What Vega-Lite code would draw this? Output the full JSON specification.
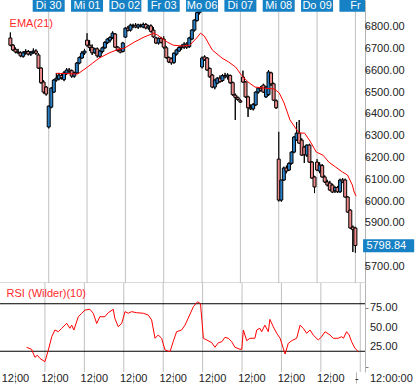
{
  "$schema": "https://vega.github.io/schema/vega-lite/v6.json",
  "padding": 0,
  "spacing": 0,
  "bounds": "flush",
  "background": "white",
  "config": {
    "view": {"stroke": null},
    "font": "Liberation Sans",
    "axis": {"grid": false, "title": null, "labelFont": "Liberation Sans", "labelFontSize": 11, "labelColor": "#222222", "labelFlush": false, "labelOverlap": false, "minExtent": 0}
  },
  "datasets": {
    "days": [
      {"t": 0, "lab": "Di 30"}, {"t": 15, "lab": "Mi 01"}, {"t": 30, "lab": "Do 02"}, {"t": 45, "lab": "Fr 03"},
      {"t": 60, "lab": "Mo 06"}, {"t": 75, "lab": "Di 07"}, {"t": 90, "lab": "Mi 08"}, {"t": 105, "lab": "Do 09"}, {"t": 120, "lab": "Fr"}
    ],
    "pticks": [{"v": 5700}, {"v": 5900}, {"v": 6000}, {"v": 6100}, {"v": 6200}, {"v": 6300}, {"v": 6400}, {"v": 6500}, {"v": 6600}, {"v": 6700}, {"v": 6800}],
    "rticks": [{"v": 25}, {"v": 50}, {"v": 75}],
    "candles": [
      {"t":-15,"o":6750,"h":6775,"l":6712,"c":6717},{"t":-14,"o":6717,"h":6722,"l":6690,"c":6695},{"t":-13,"o":6698,"h":6706,"l":6680,"c":6686},
      {"t":-12,"o":6686,"h":6700,"l":6676,"c":6682},{"t":-11,"o":6682,"h":6688,"l":6662,"c":6668},{"t":-10,"o":6666,"h":6690,"l":6660,"c":6682},
      {"t":-9,"o":6682,"h":6698,"l":6674,"c":6688},{"t":-8,"o":6688,"h":6694,"l":6670,"c":6676},{"t":-7,"o":6676,"h":6690,"l":6668,"c":6684},
      {"t":-6,"o":6684,"h":6702,"l":6678,"c":6690},{"t":-5,"o":6690,"h":6698,"l":6672,"c":6680},{"t":-4,"o":6672,"h":6680,"l":6608,"c":6612},
      {"t":-3,"o":6612,"h":6616,"l":6540,"c":6545},{"t":-2,"o":6548,"h":6556,"l":6495,"c":6502},{"t":-1,"o":6525,"h":6530,"l":6486,"c":6493},
      {"t":0,"o":6342,"h":6440,"l":6335,"c":6438},{"t":1,"o":6433,"h":6525,"l":6428,"c":6520},{"t":2,"o":6502,"h":6562,"l":6498,"c":6557},
      {"t":3,"o":6557,"h":6589,"l":6550,"c":6566},{"t":4,"o":6562,"h":6590,"l":6556,"c":6580},{"t":5,"o":6578,"h":6585,"l":6560,"c":6568},
      {"t":6,"o":6560,"h":6598,"l":6552,"c":6590},{"t":7,"o":6588,"h":6612,"l":6580,"c":6603},{"t":8,"o":6603,"h":6612,"l":6590,"c":6598},
      {"t":9,"o":6600,"h":6605,"l":6568,"c":6575},{"t":10,"o":6575,"h":6595,"l":6568,"c":6590},{"t":11,"o":6590,"h":6640,"l":6585,"c":6635},
      {"t":12,"o":6635,"h":6665,"l":6630,"c":6660},{"t":13,"o":6658,"h":6690,"l":6655,"c":6681},{"t":14,"o":6681,"h":6700,"l":6672,"c":6690},
      {"t":15,"o":6740,"h":6772,"l":6710,"c":6717},{"t":16,"o":6717,"h":6740,"l":6690,"c":6706},{"t":17,"o":6706,"h":6720,"l":6672,"c":6682},
      {"t":18,"o":6682,"h":6705,"l":6678,"c":6700},{"t":19,"o":6700,"h":6706,"l":6660,"c":6668},{"t":20,"o":6666,"h":6695,"l":6660,"c":6690},
      {"t":21,"o":6688,"h":6710,"l":6680,"c":6705},{"t":22,"o":6705,"h":6735,"l":6700,"c":6730},{"t":23,"o":6728,"h":6750,"l":6722,"c":6745},
      {"t":24,"o":6740,"h":6758,"l":6730,"c":6752},{"t":25,"o":6752,"h":6780,"l":6745,"c":6772},{"t":26,"o":6768,"h":6772,"l":6704,"c":6708},
      {"t":27,"o":6708,"h":6712,"l":6688,"c":6692},{"t":28,"o":6694,"h":6702,"l":6680,"c":6685},{"t":29,"o":6688,"h":6732,"l":6684,"c":6727},
      {"t":30,"o":6754,"h":6800,"l":6750,"c":6795},{"t":31,"o":6795,"h":6805,"l":6780,"c":6785},{"t":32,"o":6786,"h":6815,"l":6780,"c":6809},
      {"t":33,"o":6805,"h":6815,"l":6795,"c":6808},{"t":34,"o":6808,"h":6818,"l":6795,"c":6800},{"t":35,"o":6800,"h":6815,"l":6792,"c":6810},
      {"t":36,"o":6805,"h":6815,"l":6798,"c":6808},{"t":37,"o":6800,"h":6820,"l":6795,"c":6812},{"t":38,"o":6812,"h":6818,"l":6790,"c":6796},
      {"t":39,"o":6796,"h":6810,"l":6788,"c":6805},{"t":40,"o":6805,"h":6812,"l":6775,"c":6780},{"t":41,"o":6786,"h":6800,"l":6750,"c":6755},
      {"t":42,"o":6750,"h":6755,"l":6722,"c":6727},{"t":43,"o":6727,"h":6752,"l":6720,"c":6748},{"t":44,"o":6748,"h":6755,"l":6725,"c":6730},
      {"t":45,"o":6745,"h":6758,"l":6700,"c":6708},{"t":46,"o":6705,"h":6712,"l":6655,"c":6660},{"t":47,"o":6660,"h":6665,"l":6635,"c":6640},
      {"t":48,"o":6655,"h":6660,"l":6628,"c":6636},{"t":49,"o":6638,"h":6684,"l":6632,"c":6680},{"t":50,"o":6676,"h":6700,"l":6670,"c":6695},
      {"t":51,"o":6690,"h":6712,"l":6686,"c":6706},{"t":52,"o":6706,"h":6720,"l":6696,"c":6712},{"t":53,"o":6708,"h":6730,"l":6700,"c":6722},
      {"t":54,"o":6722,"h":6730,"l":6700,"c":6708},{"t":55,"o":6710,"h":6755,"l":6705,"c":6750},{"t":56,"o":6745,"h":6790,"l":6740,"c":6786},
      {"t":57,"o":6786,"h":6835,"l":6780,"c":6832},{"t":58,"o":6830,"h":6870,"l":6825,"c":6866},{"t":59,"o":6866,"h":6885,"l":6858,"c":6878},
      {"t":60,"o":6617,"h":6665,"l":6610,"c":6658},{"t":61,"o":6663,"h":6670,"l":6645,"c":6650},{"t":62,"o":6658,"h":6662,"l":6600,"c":6603},
      {"t":63,"o":6610,"h":6615,"l":6568,"c":6572},{"t":64,"o":6580,"h":6585,"l":6520,"c":6525},{"t":65,"o":6525,"h":6560,"l":6515,"c":6557},
      {"t":66,"o":6543,"h":6570,"l":6538,"c":6566},{"t":67,"o":6566,"h":6578,"l":6545,"c":6550},{"t":68,"o":6555,"h":6585,"l":6550,"c":6578},
      {"t":69,"o":6578,"h":6590,"l":6565,"c":6572},{"t":70,"o":6572,"h":6588,"l":6560,"c":6580},{"t":71,"o":6578,"h":6582,"l":6540,"c":6545},
      {"t":72,"o":6545,"h":6550,"l":6485,"c":6490},{"t":73,"o":6488,"h":6495,"l":6374,"c":6478},{"t":74,"o":6476,"h":6482,"l":6462,"c":6468},
      {"t":75,"o":6462,"h":6470,"l":6452,"c":6456},{"t":76,"o":6571,"h":6600,"l":6545,"c":6548},{"t":77,"o":6548,"h":6552,"l":6475,"c":6480},
      {"t":78,"o":6480,"h":6485,"l":6388,"c":6430},{"t":79,"o":6430,"h":6445,"l":6420,"c":6425},{"t":80,"o":6425,"h":6452,"l":6418,"c":6445},
      {"t":81,"o":6443,"h":6505,"l":6438,"c":6502},{"t":82,"o":6502,"h":6525,"l":6495,"c":6520},{"t":83,"o":6520,"h":6530,"l":6505,"c":6510},
      {"t":84,"o":6534,"h":6540,"l":6498,"c":6502},{"t":85,"o":6480,"h":6530,"l":6475,"c":6525},{"t":86,"o":6490,"h":6603,"l":6485,"c":6594},
      {"t":87,"o":6590,"h":6595,"l":6530,"c":6540},{"t":88,"o":6540,"h":6545,"l":6462,"c":6465},{"t":89,"o":6462,"h":6468,"l":6425,"c":6430},
      {"t":90,"o":6195,"h":6320,"l":6000,"c":6007},{"t":91,"o":6007,"h":6100,"l":6000,"c":6099},{"t":92,"o":6099,"h":6160,"l":6095,"c":6154},
      {"t":93,"o":6154,"h":6165,"l":6130,"c":6140},{"t":94,"o":6145,"h":6180,"l":6140,"c":6175},{"t":95,"o":6175,"h":6230,"l":6170,"c":6227},
      {"t":96,"o":6227,"h":6300,"l":6222,"c":6296},{"t":97,"o":6282,"h":6365,"l":6278,"c":6314},{"t":98,"o":6314,"h":6374,"l":6265,"c":6268},
      {"t":99,"o":6282,"h":6290,"l":6210,"c":6213},{"t":100,"o":6250,"h":6255,"l":6177,"c":6215},{"t":101,"o":6213,"h":6262,"l":6205,"c":6259},
      {"t":102,"o":6259,"h":6265,"l":6178,"c":6181},{"t":103,"o":6181,"h":6186,"l":6105,"c":6108},{"t":104,"o":6113,"h":6118,"l":6039,"c":6067},
      {"t":105,"o":6181,"h":6195,"l":6140,"c":6145},{"t":106,"o":6140,"h":6180,"l":6130,"c":6168},{"t":107,"o":6165,"h":6172,"l":6110,"c":6113},
      {"t":108,"o":6113,"h":6120,"l":6085,"c":6090},{"t":109,"o":6090,"h":6100,"l":6070,"c":6076},{"t":110,"o":6085,"h":6095,"l":6050,"c":6053},
      {"t":111,"o":6076,"h":6082,"l":6040,"c":6044},{"t":112,"o":6050,"h":6070,"l":6040,"c":6065},{"t":113,"o":6065,"h":6072,"l":6040,"c":6045},
      {"t":114,"o":6045,"h":6105,"l":6040,"c":6099},{"t":115,"o":6099,"h":6108,"l":6085,"c":6090},{"t":116,"o":6099,"h":6105,"l":6018,"c":6021},
      {"t":117,"o":6021,"h":6025,"l":5950,"c":5952},{"t":118,"o":5961,"h":5965,"l":5875,"c":5879},{"t":119,"o":5883,"h":5890,"l":5769,"c":5872},
      {"t":120,"o":5879,"h":5885,"l":5765,"c":5798.84}
    ],
    "ema": [
      {"t":2.8,"v":6588},{"t":11.4,"v":6585},{"t":15.2,"v":6617},{"t":17.1,"v":6634},{"t":19.8,"v":6658},{"t":23.6,"v":6681},
      {"t":26.6,"v":6695},{"t":29.7,"v":6704},{"t":33.5,"v":6731},{"t":37.3,"v":6754},{"t":41.1,"v":6772},{"t":42.6,"v":6763},
      {"t":46.4,"v":6731},{"t":48.7,"v":6717},{"t":52.2,"v":6713},{"t":55.2,"v":6717},{"t":57.9,"v":6750},{"t":59.4,"v":6772},
      {"t":60.9,"v":6759},{"t":64.0,"v":6695},{"t":67.8,"v":6658},{"t":70.4,"v":6640},{"t":73.1,"v":6617},{"t":75.4,"v":6580},
      {"t":78.0,"v":6548},{"t":80.7,"v":6525},{"t":84.5,"v":6520},{"t":88.3,"v":6516},{"t":90.2,"v":6498},{"t":92.1,"v":6452},
      {"t":94.4,"v":6374},{"t":97.1,"v":6328},{"t":98.2,"v":6314},{"t":100.1,"v":6314},{"t":102.0,"v":6282},{"t":104.7,"v":6227},
      {"t":107.3,"v":6213},{"t":109.6,"v":6181},{"t":112.3,"v":6158},{"t":115.0,"v":6135},{"t":116.9,"v":6122},{"t":118.8,"v":6076},
      {"t":119.5,"v":6044},{"t":120.3,"v":6025}
    ],
    "rsi": [
      {"t":-7.0,"v":25},{"t":-5.1,"v":22.5},{"t":-3.8,"v":12.4},{"t":-2.9,"v":15},{"t":-1.9,"v":11},{"t":0,"v":6.8},
      {"t":1.3,"v":21.6},{"t":2.6,"v":38.4},{"t":3.8,"v":46.8},{"t":5.1,"v":44.7},{"t":6.4,"v":49},{"t":8.3,"v":55.3},
      {"t":9.5,"v":49},{"t":10.2,"v":53},{"t":11.0,"v":46.8},{"t":12.7,"v":63.6},{"t":14.0,"v":67.9},{"t":15.2,"v":72},
      {"t":17.1,"v":73},{"t":18.4,"v":68},{"t":19.7,"v":55},{"t":20.9,"v":63.6},{"t":22.8,"v":63.6},{"t":24.1,"v":68.7},
      {"t":26.0,"v":73},{"t":26.6,"v":61.6},{"t":27.9,"v":51},{"t":29.2,"v":55.3},{"t":30.5,"v":70},{"t":31.7,"v":68},
      {"t":33.0,"v":70},{"t":34.9,"v":68.7},{"t":37.4,"v":68},{"t":39.3,"v":65.8},{"t":40.6,"v":59.5},{"t":41.9,"v":36.4},
      {"t":43.1,"v":40.5},{"t":44.4,"v":36.4},{"t":45.7,"v":21.6},{"t":47.6,"v":19.4},{"t":48.8,"v":32},{"t":50.1,"v":44.7},
      {"t":52.0,"v":46.8},{"t":53.3,"v":53},{"t":54.5,"v":61.6},{"t":56.5,"v":76.3},{"t":58.1,"v":82.6},{"t":59.2,"v":80},
      {"t":60.3,"v":36.4},{"t":61.6,"v":34.2},{"t":63.5,"v":30.8},{"t":64.7,"v":25},{"t":66.0,"v":30.8},{"t":67.3,"v":32},
      {"t":68.5,"v":37.6},{"t":69.8,"v":36.4},{"t":71.1,"v":32},{"t":72.3,"v":25},{"t":74.2,"v":22.5},{"t":74.9,"v":22.5},
      {"t":75.5,"v":46.8},{"t":76.8,"v":33.3},{"t":78.0,"v":36.4},{"t":79.9,"v":36.4},{"t":80.6,"v":46.8},{"t":81.8,"v":49},
      {"t":82.5,"v":44.7},{"t":83.7,"v":53},{"t":85.0,"v":44.7},{"t":85.6,"v":60.3},{"t":86.9,"v":51},{"t":88.2,"v":42.7},
      {"t":89.5,"v":36.4},{"t":90.7,"v":23.7},{"t":91.4,"v":16.5},{"t":92.6,"v":30},{"t":93.9,"v":33.3},{"t":95.8,"v":36.4},
      {"t":97.1,"v":53},{"t":98.3,"v":49},{"t":99.6,"v":42.7},{"t":100.9,"v":46.8},{"t":102.1,"v":40.5},{"t":104.0,"v":34.2},
      {"t":105.3,"v":38.4},{"t":106.6,"v":44.7},{"t":108.5,"v":40.5},{"t":109.7,"v":36.4},{"t":111.6,"v":36.4},{"t":112.9,"v":38.4},
      {"t":113.6,"v":36.4},{"t":114.8,"v":44.7},{"t":115.8,"v":40.5},{"t":116.7,"v":32},{"t":118.0,"v":23.7},{"t":119.3,"v":19.4}
    ],
    "levels": [{"v": 20}, {"v": 80}]
  },
  "vconcat": [
    {
      "width": 365,
      "height": 283,
      "layer": [
        {
          "data": {"name": "candles"},
          "mark": {"type": "rule", "color": "#000000", "strokeWidth": 1, "clip": true},
          "encoding": {
            "x": {"field": "t", "type": "quantitative", "scale": {"domain": [-17.1, 121.8], "nice": false, "zero": false}, "axis": null},
            "y": {"field": "l", "type": "quantitative", "scale": {"domain": [5627, 6924], "nice": false, "zero": false},
                  "axis": {"orient": "right", "values": [5700, 5900, 6000, 6100, 6200, 6300, 6400, 6500, 6600, 6700, 6800],
                           "labels": false, "tickSize": 3, "tickColor": "#808080", "domain": true, "domainColor": "#b4b4b4", "title": null}},
            "y2": {"field": "h"}
          }
        },
        {
          "data": {"name": "days"},
          "mark": {"type": "rule", "color": "#c0c0c0", "strokeWidth": 1, "clip": true},
          "encoding": {
            "x": {"field": "t", "type": "quantitative"}
          }
        },
        {
          "data": {"values": [{"edge": 5627}]},
          "mark": {"type": "rule", "color": "#b4b4b4", "strokeWidth": 1, "clip": true},
          "encoding": {
            "y": {"field": "edge", "type": "quantitative"}
          }
        },
        {
          "data": {"name": "candles"},
          "mark": {"type": "rule", "color": "#000000", "strokeWidth": 1, "clip": true},
          "encoding": {
            "x": {"field": "t", "type": "quantitative"},
            "y": {"field": "l", "type": "quantitative"},
            "y2": {"field": "h"}
          }
        },
        {
          "data": {"name": "candles"},
          "mark": {"type": "bar", "size": 3, "stroke": "#000000", "strokeWidth": 1, "clip": true},
          "encoding": {
            "x": {"field": "t", "type": "quantitative"},
            "y": {"field": "o", "type": "quantitative"},
            "y2": {"field": "c"},
            "color": {"condition": {"test": "datum.c >= datum.o", "value": "#2a80c6"}, "value": "#f08a8a"}
          }
        },
        {
          "data": {"name": "ema"},
          "mark": {"type": "line", "color": "#ff0000", "strokeWidth": 1, "clip": true},
          "encoding": {
            "x": {"field": "t", "type": "quantitative"},
            "y": {"field": "v", "type": "quantitative"}
          }
        },
        {
          "data": {"name": "days"},
          "mark": {"type": "bar", "size": 32, "color": "#1681c4", "clip": true},
          "encoding": {
            "x": {"field": "t", "type": "quantitative"},
            "y": {"datum": 6924},
            "y2": {"datum": 6870}
          }
        },
        {
          "data": {"name": "days"},
          "mark": {"type": "text", "color": "#ffffff", "fontSize": 11, "baseline": "middle", "clip": true},
          "encoding": {
            "x": {"field": "t", "type": "quantitative"},
            "y": {"datum": 6897},
            "text": {"field": "lab"}
          }
        },
        {
          "data": {"values": [{"lab": "EMA(21)"}]},
          "mark": {"type": "text", "color": "#ff2a2a", "fontSize": 11, "align": "left", "baseline": "middle"},
          "encoding": {
            "x": {"datum": -15.3},
            "y": {"datum": 6816},
            "text": {"field": "lab"}
          }
        },
        {
          "data": {"name": "pticks"},
          "mark": {"type": "text", "color": "#222222", "fontSize": 11, "align": "left", "baseline": "middle", "clip": false},
          "encoding": {
            "x": {"datum": 123.7},
            "y": {"field": "v", "type": "quantitative"},
            "text": {"field": "v", "type": "quantitative", "format": ".2f"}
          }
        },
        {
          "data": {"values": [{"p": 5798.84}]},
          "mark": {"type": "rect", "color": "#1681c4", "clip": false},
          "encoding": {
            "x": {"datum": 123},
            "x2": {"datum": 143},
            "y": {"datum": 5768},
            "y2": {"datum": 5828}
          }
        },
        {
          "data": {"values": [{"p": 5798.84}]},
          "mark": {"type": "text", "color": "#ffffff", "fontSize": 11, "align": "left", "baseline": "middle", "clip": false},
          "encoding": {
            "x": {"datum": 124.3},
            "y": {"field": "p", "type": "quantitative"},
            "text": {"field": "p", "type": "quantitative", "format": ".2f"}
          }
        }
      ]
    },
    {
      "width": 365,
      "height": 89,
      "layer": [
        {
          "data": {"name": "days"},
          "mark": {"type": "rule", "color": "#c0c0c0", "strokeWidth": 1, "clip": true},
          "encoding": {
            "x": {"field": "t", "type": "quantitative", "scale": {"domain": [-17.1, 121.8], "nice": false, "zero": false},
                  "axis": {"orient": "bottom", "values": [-11.4, 3.6, 18.6, 33.6, 48.6, 63.6, 78.6, 93.6, 108.6, 118.5],
                           "labelExpr": "datum.value > 115 ? '-' : '12:00'", "domain": false, "ticks": true, "tickSize": 11,
                           "tickColor": "#b4b4b4", "labelPadding": -11, "labelOverlap": false, "labelFlush": false, "title": null}}
          }
        },
        {
          "data": {"name": "levels"},
          "mark": {"type": "rule", "color": "#000000", "strokeWidth": 1, "clip": true},
          "encoding": {
            "y": {"field": "v", "type": "quantitative", "scale": {"domain": [-6.2, 106.2], "nice": false, "zero": false},
                  "axis": {"orient": "right", "values": [0, 25, 50, 75], "labels": false,
                           "tickSize": 3, "tickColor": "#808080", "domain": true, "domainColor": "#b4b4b4", "title": null}}
          }
        },
        {
          "data": {"name": "rsi"},
          "mark": {"type": "line", "color": "#ff0000", "strokeWidth": 1, "clip": true},
          "encoding": {
            "x": {"field": "t", "type": "quantitative"},
            "y": {"field": "v", "type": "quantitative"}
          }
        },
        {
          "data": {"values": [{"lab": "RSI (Wilder)(10)"}]},
          "mark": {"type": "text", "color": "#ff2a2a", "fontSize": 11, "align": "left", "baseline": "middle"},
          "encoding": {
            "x": {"datum": -14.6},
            "y": {"datum": 92},
            "text": {"field": "lab"}
          }
        },
        {
          "data": {"name": "rticks"},
          "mark": {"type": "text", "color": "#222222", "fontSize": 11, "align": "left", "baseline": "middle", "clip": false},
          "encoding": {
            "x": {"datum": 123.7},
            "y": {"field": "v", "type": "quantitative"},
            "text": {"field": "v", "type": "quantitative", "format": ".2f"}
          }
        },
        {
          "data": {"values": [{"lab": "12:00:00"}]},
          "mark": {"type": "text", "color": "#222222", "fontSize": 11, "align": "left", "baseline": "middle", "clip": false},
          "encoding": {
            "x": {"datum": 123.7},
            "y": {"datum": -14.8},
            "text": {"field": "lab"}
          }
        }
      ]
    }
  ]
}
